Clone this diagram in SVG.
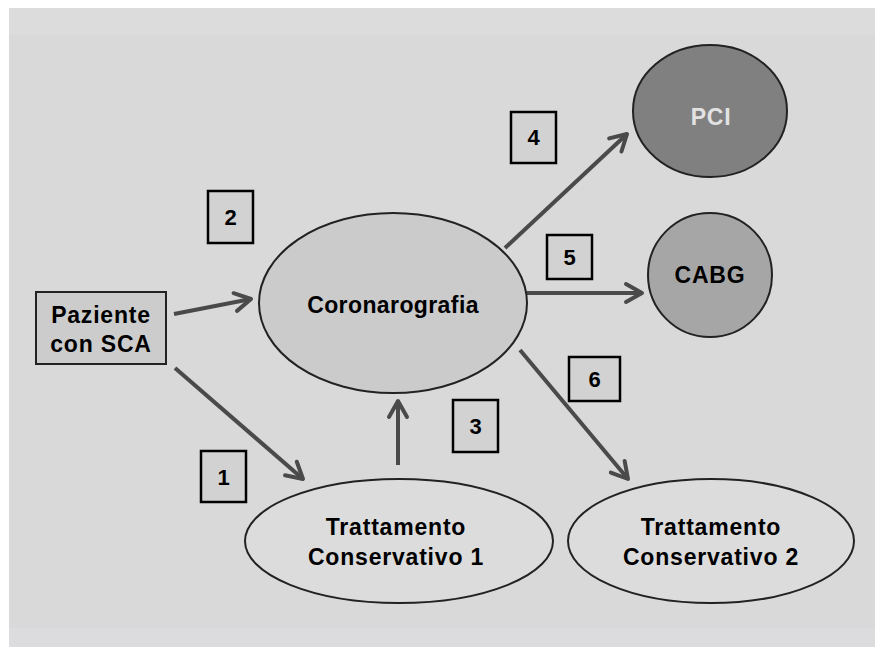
<svg xmlns="http://www.w3.org/2000/svg" width="875" height="647" viewBox="0 0 875 647">
<style>
text{font-family:"Liberation Sans",Arial,sans-serif;font-weight:bold;text-anchor:middle;fill:#000}
.node{stroke:#222;stroke-width:2}
.lbl{fill:#d2d2d2;stroke:#000;stroke-width:2.5}
.con{stroke:#4a4a4a;stroke-width:4;fill:none;marker-end:url(#ah)}
.t22{font-size:23px;letter-spacing:0.8px}
.num{font-size:22px}
</style>
<defs>
<marker id="ah" markerUnits="userSpaceOnUse" markerWidth="40" markerHeight="40" refX="0" refY="0" viewBox="-20 -20 40 40" orient="auto" overflow="visible">
<path d="M -16 -9 L 0 0 L -16 9" fill="none" stroke="#4a4a4a" stroke-width="4" stroke-linecap="round" stroke-linejoin="round"/>
</marker>
</defs>
<rect x="0" y="0" width="875" height="647" fill="#ffffff"/>
<rect x="9" y="8" width="866" height="639" fill="#d9d9d9"/>
<rect x="9" y="8" width="866" height="27" fill="#dcdcdd"/>
<rect x="9" y="628" width="866" height="19" fill="#dcdcde"/>

<g id="connectors">
<line class="con" x1="174" y1="314" x2="251" y2="299"/>
<line class="con" x1="175" y1="368" x2="303" y2="479"/>
<line class="con" x1="398" y1="465" x2="398" y2="401"/>
<line class="con" x1="505" y1="248" x2="627" y2="134"/>
<line class="con" x1="527" y1="293" x2="642" y2="293"/>
<line class="con" x1="520" y1="350" x2="628" y2="479"/>
</g>

<g id="paziente">
<rect class="node" x="36" y="292" width="130" height="72" fill="#cccccc"/>
<text class="t22" x="101" y="323">Paziente</text>
<text class="t22" x="101" y="352">con SCA</text>
</g>

<g id="coronarografia">
<ellipse class="node" cx="393" cy="303" rx="134" ry="90" fill="#cbcbcb"/>
<text class="t22" x="393" y="313" style="letter-spacing:0.4px">Coronarografia</text>
</g>

<g id="pci">
<ellipse class="node" cx="710" cy="111" rx="77" ry="66" fill="#808080"/>
<text class="t22" x="711" y="125" style="fill:#e2e2e2">PCI</text>
</g>

<g id="cabg">
<ellipse class="node" cx="710" cy="275" rx="62" ry="62" fill="#a6a6a6"/>
<text class="t22" x="710" y="283">CABG</text>
</g>

<g id="tc1">
<ellipse class="node" cx="399" cy="541" rx="154" ry="62" fill="#dcdcdc"/>
<text class="t22" x="396" y="535">Trattamento</text>
<text class="t22" x="396" y="565">Conservativo 1</text>
</g>

<g id="tc2">
<ellipse class="node" cx="711" cy="541" rx="143" ry="62" fill="#dcdcdc"/>
<text class="t22" x="711" y="535">Trattamento</text>
<text class="t22" x="711" y="565">Conservativo 2</text>
</g>

<g id="label1"><rect class="lbl" x="201" y="451" width="45" height="51"/><text class="num" x="223.5" y="485">1</text></g>
<g id="label2"><rect class="lbl" x="208" y="191" width="45" height="52"/><text class="num" x="230.5" y="225">2</text></g>
<g id="label3"><rect class="lbl" x="453" y="400" width="45" height="52"/><text class="num" x="475.5" y="434">3</text></g>
<g id="label4"><rect class="lbl" x="511" y="112" width="45" height="51"/><text class="num" x="533.5" y="145">4</text></g>
<g id="label5"><rect class="lbl" x="547" y="235" width="45" height="44"/><text class="num" x="569.5" y="265">5</text></g>
<g id="label6"><rect class="lbl" x="569" y="357" width="51" height="44"/><text class="num" x="594.5" y="387">6</text></g>
</svg>
